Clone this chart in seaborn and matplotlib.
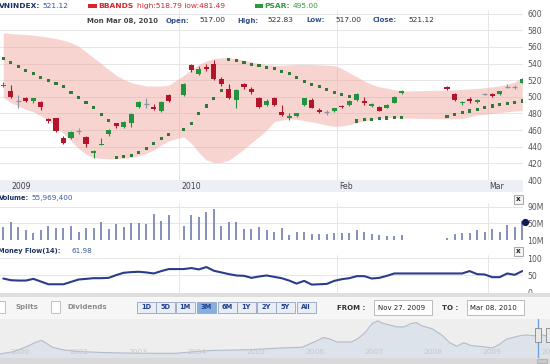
# Recreación del gráfico VNINDEX (velas + BBANDS + PSAR, volumen, money flow)
import numpy as np
import pandas as pd
import matplotlib
matplotlib.use("Agg")
import matplotlib.pyplot as plt
from matplotlib.patches import Rectangle
import seaborn as sns

sns.set_theme(style="white")
plt.rcParams["font.family"] = ["DejaVu Sans"]

# ==========================================
# 1. Datos
# ==========================================
holidays = ["2010-01-01", "2010-02-15", "2010-02-16", "2010-02-17", "2010-02-18", "2010-02-19"]

opens = [513, 507, 495, 499, 495, 494, 473, 474, 451, 450, 459, 452, 433, 442, 455, 468,
         464, 469, 488, 491.6, 488, 483, 502,
         502, 538, 527, 536, 540, 522, 510, 496, 516, 509, 499, 490, 499, 482, 474.5, 477,
         490, 496, 484, 481.5, 483, 489, 490, 496, 495.5, 489, 487.5, 486.5, 493, 505,
         512, 504, 492, 497.5, 494, 503.3, 503.5, 504, 512.4, 512, 517]
highs = [518, 514, 502, 500, 499, 495, 474, 475, 453, 459, 463, 453, 436, 450, 461, 469,
         471, 480, 495, 498.5, 491, 495, 504,
         517, 539, 537, 539, 544, 524, 515, 509, 517, 512, 500, 497, 500, 490, 481, 481,
         499, 498, 487, 484, 487, 490, 496, 505, 500, 492, 489, 491, 501, 508,
         513, 505, 495, 500, 497, 505, 505, 507, 515.6, 514, 522.83]
lows = [512, 499, 486, 494, 492, 484, 469, 458, 443, 449, 455, 440, 427, 442, 453, 463,
        463, 464, 487, 486.5, 484, 482, 494,
        501, 530, 526, 531, 520, 513, 497, 487, 510, 504, 487, 489, 489, 477, 472, 476,
        489, 486, 481, 478, 482, 487, 489, 495, 490, 488, 483, 486, 492, 504,
        508, 495, 490, 493, 492, 502, 500, 502, 511, 510, 517]
closes = [514.5, 500, 495, 495, 498, 488, 470.5, 459, 444, 458, 459, 443, 434.5, 443.5, 460, 465,
          470, 479, 494, 491.6, 485, 494, 495,
          516, 532, 534, 534, 521, 515, 498, 508, 512, 506, 488, 495, 490, 478, 477.5, 480,
          498, 487, 482, 481.5, 486.5, 488, 495, 503.5, 493, 491, 483.5, 490.5, 500, 507,
          509.5, 496, 494, 495, 496, 503.3, 501, 506.5, 512.4, 512, 521.12]

volume_m = [42, 52.5, 42, 34, 26, 34, 44, 38, 38, 44, 28.5, 38, 39.6, 52.5, 36.4, 47.7,
            40.5, 51.6, 51.6, 47.7, 71.6, 55.6, 70,
            43.6, 70, 66, 76.5, 84.4, 43.6, 52.5, 54, 36.4, 36.4, 40.5, 34, 30, 38, 22, 30,
            30, 24, 25, 24, 28, 28, 28, 33, 30, 24, 22, 20, 20, 22,
            16, 24, 26, 26, 33, 30, 36, 30, 45, 42, 55.97]

bb_upper = [577, 576, 575.5, 575, 574, 573, 571.5, 570, 568, 565, 561, 554, 547, 540, 533, 526,
            521, 517, 515, 513, 513, 513, 514,
            526, 533, 539, 543, 546, 547, 547, 546, 544, 542, 540, 539, 538, 538, 538.5, 539,
            539, 539, 538.5, 538, 537.5, 534, 529, 524, 519, 515, 512, 510.5, 508.5, 507,
            508, 508.5, 509, 509.5, 510, 511, 512, 513, 515, 518, 523]
bb_lower = [499, 493, 489, 485, 482, 477, 472, 464, 456, 447, 438, 431, 427, 426, 425.5, 425.5,
            426, 427, 429, 432, 436, 442, 447,
            452, 444, 433, 424, 421, 421, 424, 430, 437, 445, 452, 460, 470, 472, 473.5, 473,
            471.5, 470, 468, 466, 464.5, 465, 466.5, 469, 471, 472.5, 474, 475, 475, 474.5,
            473.5, 473.5, 474, 476, 478, 479, 480, 481, 482, 483, 483.5]

psar = [546.5, 541, 536.4, 532, 527.6, 523.6, 520, 516, 512, 505, 499, 493, 487.6, 478.4, 471.6, 427,
        428, 429.6, 433.6, 438.4, 444.4, 449.6, 454.4,
        460.4, 468.4, 479.6, 489, 498.4, 507.6, 544.4, 543.6, 540.8, 539, 537.6, 535.6, 534, 530.4, 527.6,
        523, 518.4, 515.3, 512, 508.4, 505, 503, 500, 471, 472.4, 473, 474, 474.5, 475, 475.6,
        476.8, 478.8, 480.8, 483, 485, 487.6, 489, 490.4, 492, 493.6, 495]

money_flow = [40, 35, 34, 34, 39, 31, 23, 23, 23, 30, 37, 39, 41, 41, 42, 50,
              57, 59, 60, 58, 55, 62, 68,
              68, 71, 67, 74, 63, 58, 53, 49, 48, 42, 46, 49, 45, 41, 34, 25,
              33, 22, 23, 24, 33, 38, 41, 47, 47, 40, 42, 48, 55, 55,
              55, 55, 55, 62, 53, 52, 44, 44, 55, 51, 62]

month_labels = ["2009", "2010", "Feb", "Mar"]
month_starts = ["2009-12-01", "2010-01-01", "2010-02-01", "2010-03-01"]

# navegador (histórico largo)
nav_years = [2000.58, 2000.82, 2001.05, 2001.17, 2001.28, 2001.35, 2001.47, 2001.65, 2001.89, 2002.36,
             2002.96, 2003.55, 2003.91, 2004.15, 2004.75, 2005.34, 2005.70, 2005.94, 2006.06, 2006.18,
             2006.29, 2006.53, 2006.65, 2006.77, 2006.89, 2006.98, 2007.07, 2007.19, 2007.31, 2007.43,
             2007.55, 2007.64, 2007.73, 2007.90, 2008.08, 2008.20, 2008.32, 2008.44, 2008.56, 2008.68,
             2008.80, 2008.92, 2009.04, 2009.16, 2009.27, 2009.39, 2009.51, 2009.63, 2009.72, 2009.81, 2009.95]
nav_values = [92, 173, 347, 461, 540, 461, 311, 229, 173, 137,
              114, 114, 173, 206, 229, 288, 311, 517, 631, 575,
              484, 484, 598, 804, 1092, 1174, 1092, 1037, 978, 978,
              1092, 1115, 1010, 919, 690, 461, 347, 461, 370, 347,
              324, 288, 402, 575, 631, 690, 713, 690, 749, 690, 700]
nav_labels = ["2000", "2002", "2003", "2004", "2005", "2006", "2007", "2008", "2009", "2010"]
nav_label_pos = [2001, 2002, 2003, 2004, 2005, 2006, 2007, 2008, 2009, 2010]

# ==========================================
# 2. Preparación
# ==========================================
all_days = pd.bdate_range("2009-12-01", "2010-03-08")
mask = ~all_days.isin(pd.to_datetime(holidays))
df = pd.DataFrame({
    "date": all_days[mask], "pos": np.flatnonzero(mask),
    "open": opens, "high": highs, "low": lows, "close": closes,
    "volume": volume_m, "upper": bb_upper, "lower": bb_lower,
    "psar": psar, "mflow": money_flow,
})
month_pos = [all_days.searchsorted(pd.Timestamp(d)) + 0.4 for d in month_starts]

W, H = 550, 364
RED, GREEN, GRAY = "#b5152b", "#23943e", "#8a93a6"
NAVY = "#1d3263"
GRID = "#e6e6e6"


def px(x0, y0, x1, y1):
    return [x0 / W, 1 - y1 / H, (x1 - x0) / W, (y1 - y0) / H]


fig = plt.figure(figsize=(5.5, 3.64), dpi=100)
fig.patch.set_facecolor("white")
XLIM = (-0.44, 69.1)


def style_panel(ax, ticks, labels):
    ax.set_xlim(*XLIM)
    ax.set_facecolor("none")
    for s in ax.spines.values():
        s.set_visible(False)
    ax.yaxis.tick_right()
    ax.set_yticks(ticks)
    ax.set_yticklabels(labels)
    ax.tick_params(axis="y", length=0, pad=3, labelsize=5.6, labelcolor="#555555")
    ax.set_xticks([])
    ax.set_xlabel("")
    ax.set_ylabel("")
    for p in month_pos[1:]:
        ax.axvline(p, color=GRID, lw=0.7, zorder=0)


# ==========================================
# 3. Panel principal
# ==========================================
ax = fig.add_axes(px(0, 10, 523, 180))
ax.set_ylim(400, 604.4)
style_panel(ax, range(400, 601, 20), [str(v) for v in range(400, 601, 20)])
for v in range(420, 601, 20):
    ax.axhline(v, color=GRID, lw=0.7, zorder=0)

ax.fill_between(df["pos"], df["lower"], df["upper"], color="#f0a098", alpha=0.45, lw=0, zorder=1)
sns.scatterplot(data=df, x="pos", y="psar", ax=ax, marker="s", s=5, color="#2b7a38",
                edgecolor="none", zorder=3, legend=False)

for _, r in df.iterrows():
    if r["close"] > r["open"]:
        col = GREEN
    elif r["close"] < r["open"]:
        col = RED
    else:
        col = GRAY
    ax.vlines(r["pos"], r["low"], r["high"], color=col, lw=0.8, zorder=4)
    if col == GRAY:
        ax.hlines(r["close"], r["pos"] - 0.33, r["pos"] + 0.33, color=col, lw=0.9, zorder=4)
    else:
        lo = min(r["open"], r["close"])
        hgt = max(abs(r["close"] - r["open"]), 1.2)
        ax.bar(r["pos"], hgt, bottom=lo, width=0.68, color=col, lw=0, zorder=5)
ax.set_xlabel("")
ax.set_ylabel("")

# ==========================================
# 4. Panel de volumen
# ==========================================
axv = fig.add_axes(px(0, 203, 523, 240))
axv.set_ylim(10, 98.9)
style_panel(axv, [10, 50, 90], ["10M", "50M", "90M"])
for v in [50, 90]:
    axv.axhline(v, color=GRID, lw=0.7, zorder=0)
axv.vlines(df["pos"], 0, df["volume"], color="#6f7db0", lw=1.2, zorder=3)

# ==========================================
# 5. Money flow
# ==========================================
axm = fig.add_axes(px(0, 255, 523, 293))
axm.set_ylim(-2.9, 109.7)
style_panel(axm, [0, 50, 100], ["0", "50", "100"])
for v in [50, 100]:
    axm.axhline(v, color=GRID, lw=0.7, zorder=0)
sns.lineplot(data=df, x="pos", y="mflow", ax=axm, color="#2a3c8a", lw=1.5, zorder=3)
axm.set_xlim(*XLIM)
axm.set_xlabel("")
axm.set_ylabel("")
axm.set_xticks([])

# ==========================================
# 6. Navegador
# ==========================================
axn = fig.add_axes(px(0, 319, 550, 357.5))
axn.set_facecolor("#eeeeee")
axn.fill_between(nav_years, nav_values, -50, color="#dde3ea", lw=0)
sns.lineplot(x=nav_years, y=nav_values, ax=axn, color="#b4bcc8", lw=0.8)
axn.set_xlim(2000.58, 2009.9)
axn.set_ylim(-23, 1236)
for s in axn.spines.values():
    s.set_visible(False)
axn.set_xticks([])
axn.set_yticks([])
for lab, p in zip(nav_labels, nav_label_pos):
    axn.text(p - 0.08, 150, lab, ha="center", va="center", fontsize=5.4, color="#c8c8c8")
axn.axvline(2009.69, color="#6fa3dc", lw=1.0)

# ==========================================
# 7. Capa de interfaz (textos y botones)
# ==========================================
ui = fig.add_axes([0, 0, 1, 1], zorder=10)
ui.set_xlim(0, W)
ui.set_ylim(H, 0)
ui.axis("off")
ui.patch.set_alpha(0)


def rect(x0, y0, x1, y1, fc, ec="none", lw=0.6, z=1):
    ui.add_patch(Rectangle((x0, y0), x1 - x0, y1 - y0, fc=fc, ec=ec, lw=lw, zorder=z))


def txt(x, y, s, color="#333333", bold=False, size=5.4, ha="left"):
    ui.text(x, y, s, color=color, fontsize=size, ha=ha, va="center",
            fontweight="bold" if bold else "normal", zorder=5)


# franja de fechas
rect(0, 180, 523, 192, "#eceff3")
for lab, p in zip(month_labels, month_pos):
    xp = 3.3 + 7.52 * p
    if lab == "2009":
        xp = 9.5
    txt(xp + 2, 186.5, lab, color="#444444", size=5.6)

# cabecera
txt(-1.5, 6, "VNINDEX:", NAVY, True)
txt(42, 6, "521.12", "#2f55a4")
rect(88, 4, 97, 8, "#d7262e")
txt(98, 6, "BBANDS", "#d7262e", True)
txt(137, 6, "high:518.79 low:481.49", "#d7262e")
rect(255, 4, 263, 8, "#2d9a3c")
txt(264, 6, "PSAR:", "#2d9a3c", True)
txt(293, 6, "495.00", "#2d9a3c")

txt(87, 20.5, "Mon Mar 08, 2010", "#444444", True, 5.0)
for x, s in [(166, "Open:"), (237, "High:"), (306, "Low:"), (373, "Close:")]:
    txt(x, 20.5, s, "#34508e", True, 5.0)
for x, s in [(199, "517.00"), (267, "522.83"), (335, "517.00"), (408, "521.12")]:
    txt(x, 20.5, s, "#333333", False, 5.4)

# volumen / money flow
txt(-1.5, 198, "Volume:", NAVY, True, 4.8)
txt(31, 198, "55,969,400", "#3a5a9a", False, 5.2)
ui.plot([525], [221.5], "o", color="#101c5a", ms=4.2, zorder=6, clip_on=False)
txt(-1.5, 251, "Money Flow(14):", NAVY, True, 4.8)
txt(72, 251, "61.98", "#3a5a9a", False, 5.2)
for y0 in [195, 247]:
    rect(514, y0, 522.5, y0 + 9, "#f4f4f4", "#9a9a9a", 0.6, 4)
    txt(518.3, y0 + 4.3, "x", "#222222", True, 5.2, "center")

# barra inferior
rect(0, 293, W, 297, "#dedede")
rect(0, 297, W, 319, "#f6f6f6")
rect(-3, 301, 5, 313, "white", "#b8b8b8")
txt(16, 307, "Splits", "#8a8a8a", True, 5.0)
rect(51, 301, 60, 313, "white", "#b8b8b8")
txt(67, 307, "Dividends", "#8a8a8a", True, 5.0)

btn_labels = ["1D", "5D", "1M", "3M", "6M", "1Y", "2Y", "5Y", "All"]
btn_x = [137, 156, 176, 197, 218, 237, 257, 276, 297]
for lab, x0 in zip(btn_labels, btn_x):
    fc = "#86aee0" if lab == "3M" else "#e9edf5"
    rect(x0, 301.5, x0 + 18.5, 313, fc, "#93a3c0", 0.6, 3)
    txt(x0 + 9.25, 307.3, lab, "#1f3e8a", True, 4.8, "center")

txt(337, 307.5, "FROM :", "#333333", True, 5.0)
rect(374, 300, 432, 315, "white", "#b0b0b0", 0.6, 3)
txt(378, 307.5, "Nov 27. 2009", "#222222", False, 5.0)
txt(442, 307.5, "TO :", "#333333", True, 5.0)
rect(467, 300, 524, 315, "white", "#b0b0b0", 0.6, 3)
txt(470, 307.5, "Mar 08. 2010", "#222222", False, 5.0)

rect(0, 357.5, W, H, "#d9d9d9")
rect(535, 328, 541, 342, "#e8e8e8", "#888888", 0.6, 3)
rect(546, 328, 552, 342, "#e8e8e8", "#888888", 0.6, 3)
rect(537, 358.5, 547, 363, "#c9c9c9", "#aaaaaa", 0.5, 3)

fig.savefig("out.png", dpi=100)
